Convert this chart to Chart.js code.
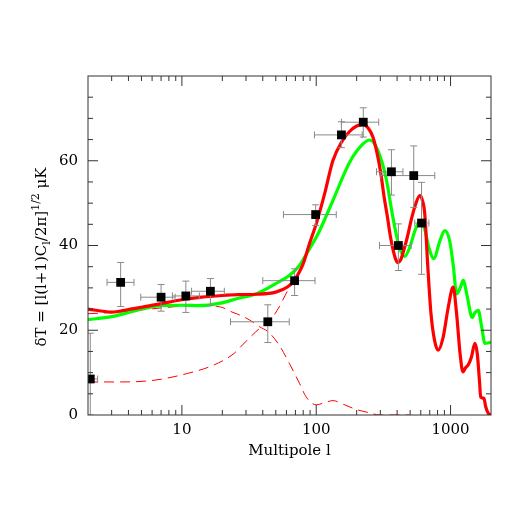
<!DOCTYPE html>
<html><head><meta charset="utf-8">
<script src="https://cdn.jsdelivr.net/npm/chart.js@4"></script>
<style>html,body{margin:0;padding:0;background:#fff}</style>
</head><body>
<canvas id="c" width="518" height="518"></canvas>
<script>
// ---- observed band powers ----
const obsL   = [2.08, 3.5, 7.0, 10.7, 16.3, 43.6, 69, 99, 154, 224, 363, 409, 532, 608];
const obsT   = [8.5, 31.3, 27.8, 28.1, 29.2, 22.0, 31.7, 47.3, 66.1, 69.1, 57.4, 40.0, 56.5, 45.3];
const obsLlo = [1.8, 2.77, 4.94, 8.5, 11.8, 23, 40, 57, 97, 154, 281, 296, 303, 541];
const obsLhi = [2.36, 4.4, 8.9, 13.5, 20.7, 63, 98, 141, 220, 292, 442, 509, 763, 690];
const obsTlo = [0, 25.6, 24.5, 24.2, 25.9, 17.1, 28.2, 44.7, 63.1, 65.6, 51.9, 34.1, 49.0, 33.2];
const obsThi = [19.3, 36.0, 30.8, 31.6, 32.2, 26.0, 34.5, 49.6, 69.2, 72.5, 62.6, 45.1, 63.5, 54.9];

// ---- model curves ----
const redL = [2,3,4,5,7,10,14,20,26,36,50,61,69,75,80,89,100,115,133,155,177,200,222,245,265,285,303,320,339,355,372,390,405,425,455,485,511,550,590,615,643,675,715,760,808,881,962,1045,1109,1177,1235,1297,1352,1431,1517,1580,1646,1675,1774,1824,1910,2000];
const redT = [25.0,24.3,24.9,25.4,26.3,27.2,27.8,28.2,28.4,28.5,29.0,30.2,31.8,33.8,35.7,40.4,45.1,52,60,64.5,66.9,68.2,68.6,67.6,65.5,61.5,56.9,51.5,46.7,42.5,39.2,36.8,36.0,36.6,39.6,43,46.2,49.8,51.8,50.8,47.4,35.7,23.9,17.6,15.3,18.4,25.5,30.2,23.9,14.5,10.2,11.2,11.8,13.7,16.9,14.5,7.5,4.3,3.9,2,0.4,0];

const greenL = [2,3,5,7,10,13.5,19.4,26,36,50,63,75,89,103,133,177,222,250,288,330,372,414,455,497,550,600,640,690,750,831,906,986,1050,1109,1180,1242,1330,1449,1520,1607,1700,1803,1900,2000];
const greenT = [22.5,23.2,25.0,25.8,25.9,25.8,26.4,27.5,28.6,31,32.9,35.3,39.2,42.7,50.6,59.6,63.9,64.9,62.4,56.1,46.7,39.8,37.4,39.6,44,45.8,44,39.5,36.9,41,43.5,41,35,28.6,30,31.8,28,23,24.2,24.7,21,16.9,17,17.2];

const dashAL = [2,3.5,6.2,10,13,19.4,24,26,32,38,44,53,63,75,84,100,115,133,160,199,250,296,350,420,493];
const dashAT = [23.9,24.3,25.1,25.7,25.9,25.5,24.2,23.8,22.4,20.8,19.6,16.5,12.2,7.5,4.3,2.4,2.9,3.4,2.5,1.3,0.5,0,0,0,0];

const dashBL = [2,3.5,6.2,11,17.3,24.4,27,37.8,44,53,61.4,69,75];
const dashBT = [7.8,7.8,8.2,9.8,11.8,14.5,15.9,20.4,21.8,25.5,29.4,31.8,34];

// ---- axes ----
const xRange = [2, 2000];
const yRange = [0, 80];
const xTickVals = [10, 100, 1000];
const yTickVals = [0, 20, 40, 60];
const xTitle = 'Multipole l';

const pts = (L, T) => L.map((l, i) => ({x: l, y: T[i]}));
const FONT = 'DejaVu Serif';

const errPlugin = {
  id: 'errbars',
  beforeDatasetDraw(chart, args) {
    if (args.index !== 0) return;
    const {ctx, chartArea: a, scales: {x, y}} = chart;
    const cap = 3.5;
    ctx.save();
    ctx.beginPath(); ctx.rect(a.left, a.top, a.right - a.left, a.bottom - a.top); ctx.clip();
    ctx.strokeStyle = '#8a8a8a'; ctx.lineWidth = 1;
    ctx.beginPath();
    obsL.forEach((l, i) => {
      const px = x.getPixelForValue(l), py = y.getPixelForValue(obsT[i]);
      const x0 = x.getPixelForValue(obsLlo[i]), x1 = x.getPixelForValue(obsLhi[i]);
      const y0 = y.getPixelForValue(obsTlo[i]), y1 = y.getPixelForValue(obsThi[i]);
      ctx.moveTo(x0, py); ctx.lineTo(x1, py);
      ctx.moveTo(x0, py - cap); ctx.lineTo(x0, py + cap);
      ctx.moveTo(x1, py - cap); ctx.lineTo(x1, py + cap);
      ctx.moveTo(px, y0); ctx.lineTo(px, y1);
      ctx.moveTo(px - cap, y0); ctx.lineTo(px + cap, y0);
      ctx.moveTo(px - cap, y1); ctx.lineTo(px + cap, y1);
    });
    ctx.stroke();
    ctx.restore();
  }
};

const framePlugin = {
  id: 'frame',
  afterDraw(chart) {
    const {ctx, chartArea: a, scales: {x, y}} = chart;
    ctx.save();
    ctx.strokeStyle = '#333'; ctx.lineWidth = 1;
    ctx.strokeRect(a.left, a.top, a.right - a.left, a.bottom - a.top);
    ctx.beginPath();
    for (let d = 1; d <= 1000; d *= 10) {
      for (let k = 1; k <= 9; k++) {
        const v = d * k;
        if (v <= xRange[0] || v >= xRange[1]) continue;
        const px = x.getPixelForValue(v);
        const len = k === 1 ? 10 : 5;
        ctx.moveTo(px, a.bottom); ctx.lineTo(px, a.bottom - len);
        ctx.moveTo(px, a.top); ctx.lineTo(px, a.top + len);
      }
    }
    for (let v = yRange[0] + 5; v < yRange[1]; v += 5) {
      const py = y.getPixelForValue(v);
      const len = v % 20 === 0 ? 10 : 5;
      ctx.moveTo(a.left, py); ctx.lineTo(a.left + len, py);
      ctx.moveTo(a.right, py); ctx.lineTo(a.right - len, py);
    }
    ctx.stroke();

    // y-axis title with sub/superscripts
    const big = '15px "' + FONT + '"', small = '11px "' + FONT + '"';
    const parts = [
      {t: '\u03B4T = [l(l+1)C', f: big, dy: 0},
      {t: 'l', f: small, dy: 4},
      {t: '/2\u03C0]', f: big, dy: 0},
      {t: '1/2', f: small, dy: -7},
      {t: ' \u03BCK', f: big, dy: 0}
    ];
    let total = 0;
    parts.forEach(p => { ctx.font = p.f; p.w = ctx.measureText(p.t).width; total += p.w; });
    ctx.translate(46, 257);
    ctx.rotate(-Math.PI / 2);
    ctx.fillStyle = '#000';
    ctx.textBaseline = 'alphabetic';
    ctx.textAlign = 'left';
    let cx = -total / 2;
    parts.forEach(p => { ctx.font = p.f; ctx.fillText(p.t, cx, p.dy); cx += p.w; });
    ctx.restore();
  }
};

new Chart(document.getElementById('c'), {
  type: 'line',
  data: {
    datasets: [
      {data: pts(obsL, obsT), showLine: false, pointStyle: 'rect', pointRadius: 6.2,
       pointBackgroundColor: '#000', pointBorderColor: '#000', pointBorderWidth: 0},
      {data: pts(redL, redT), borderColor: '#ff0000', borderWidth: 3.2, pointRadius: 0,
       cubicInterpolationMode: 'monotone'},
      {data: pts(greenL, greenT), borderColor: '#00ff00', borderWidth: 3.2, pointRadius: 0,
       cubicInterpolationMode: 'monotone'},
      {data: pts(dashAL, dashAT), borderColor: '#ff0000', borderWidth: 1, pointRadius: 0,
       borderDash: [10, 6], cubicInterpolationMode: 'monotone'},
      {data: pts(dashBL, dashBT), borderColor: '#ff0000', borderWidth: 1, pointRadius: 0,
       borderDash: [10, 6], cubicInterpolationMode: 'monotone'}
    ]
  },
  options: {
    responsive: false,
    animation: false,
    devicePixelRatio: 1,
    layout: {padding: {top: 76, right: 27, left: 0, bottom: 0}},
    plugins: {legend: {display: false}, tooltip: {enabled: false}},
    scales: {
      x: {
        type: 'logarithmic', min: xRange[0], max: xRange[1],
        grid: {display: false, drawTicks: false}, border: {display: false},
        afterBuildTicks: s => { s.ticks = xTickVals.map(v => ({value: v})); },
        afterFit: s => { s.height = 103; },
        ticks: {color: '#000', font: {family: FONT, size: 15}, padding: 6,
                maxRotation: 0, autoSkip: false, callback: v => String(v)},
        title: {display: true, text: xTitle, color: '#000', font: {family: FONT, size: 15},
                padding: {top: 0, bottom: 58}}
      },
      y: {
        min: yRange[0], max: yRange[1],
        grid: {display: false, drawTicks: false}, border: {display: false},
        afterBuildTicks: s => { s.ticks = yTickVals.map(v => ({value: v})); },
        afterFit: s => { s.width = 88; },
        ticks: {color: '#000', font: {family: FONT, size: 15}, padding: 10,
                callback: v => String(v)}
      }
    }
  },
  plugins: [errPlugin, framePlugin]
});
</script>
</body></html>
